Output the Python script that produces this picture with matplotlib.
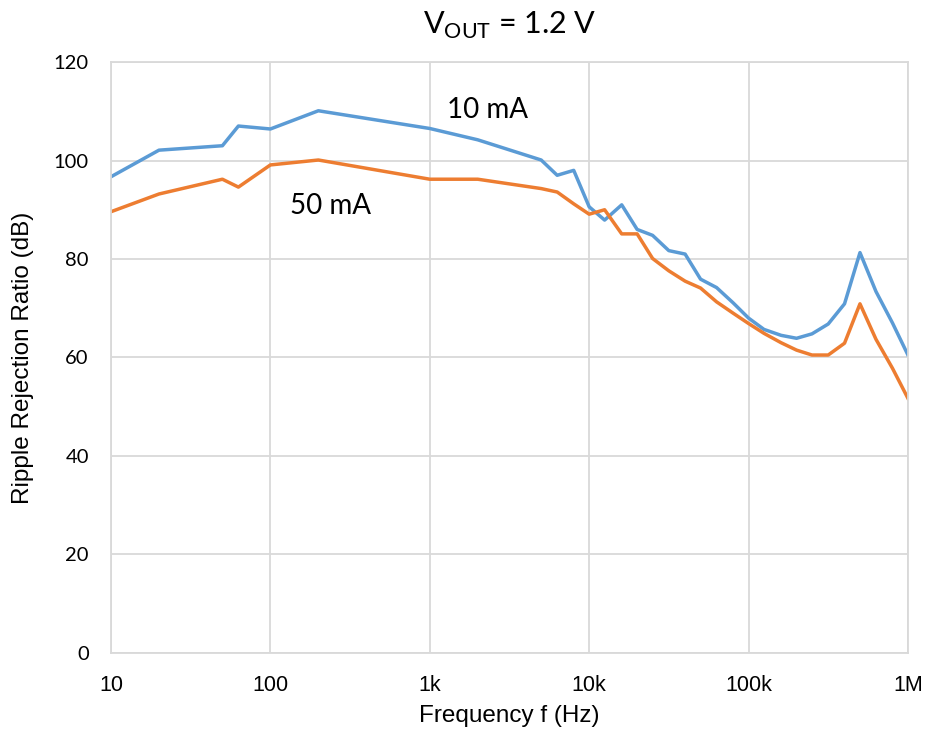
import matplotlib
matplotlib.use("Agg")
import matplotlib.pyplot as plt
from matplotlib.ticker import FixedLocator, FixedFormatter, NullLocator

# frequency points (Hz)
freq = [10, 20, 50, 63, 100, 200, 1e3, 2e3, 5e3, 6.3e3, 8e3, 10e3, 12.5e3, 16e3,
        20e3, 25e3, 31.6e3, 40e3, 50e3, 63e3, 80e3, 100e3, 125e3, 160e3, 200e3,
        250e3, 316e3, 400e3, 500e3, 630e3, 800e3, 1e6]

# ripple rejection (dB)
prr_10ma = [96.7, 102.1, 103.0, 107.0, 106.4, 110.1, 106.5, 104.2, 100.1, 97.0,
            98.0, 90.6, 87.9, 91.0, 86.0, 84.8, 81.7, 81.0, 75.9, 74.2, 71.1,
            68.0, 65.7, 64.5, 63.9, 64.8, 66.8, 70.9, 81.3, 73.4, 67.0, 60.5]
prr_50ma = [89.6, 93.2, 96.2, 94.6, 99.1, 100.1, 96.2, 96.2, 94.3, 93.6,
            91.2, 89.1, 90.0, 85.1, 85.1, 80.1, 77.6, 75.5, 74.1, 71.3, 69.0,
            66.9, 64.9, 63.0, 61.5, 60.5, 60.5, 62.9, 70.9, 63.7, 57.8, 51.7]

xticks = [10, 100, 1e3, 1e4, 1e5, 1e6]
xtick_labels = ["10", "100", "1k", "10k", "100k", "1M"]
yticks = [0, 20, 40, 60, 80, 100, 120]

plt.rcParams['font.family'] = ['Liberation Sans', 'DejaVu Sans']
plt.rcParams['mathtext.fontset'] = 'custom'
plt.rcParams['mathtext.rm'] = 'Lato'

fig = plt.figure(figsize=(9.28, 7.4), dpi=100)
ax = fig.add_axes([0.1196, 0.1176, 0.8588, 0.7986])

ax.plot(freq, prr_10ma, color='#5B9BD5', lw=2.5, solid_joinstyle='round')
ax.plot(freq, prr_50ma, color='#ED7D31', lw=2.5, solid_joinstyle='round')

ax.set_xscale('log')
ax.set_xlim(10, 1e6)
ax.set_ylim(0, 120)
ax.xaxis.set_major_locator(FixedLocator(xticks))
ax.xaxis.set_major_formatter(FixedFormatter(xtick_labels))
ax.xaxis.set_minor_locator(NullLocator())
ax.set_yticks(yticks)

ax.grid(True, color='#d9d9d9', lw=1.3)
ax.set_axisbelow(True)
for s in ax.spines.values():
    s.set_color('#d9d9d9')
    s.set_linewidth(1.3)
ax.tick_params(length=0, colors='black')
ax.tick_params(axis='x', pad=16, labelsize=15.5)
ax.tick_params(axis='y', pad=16, labelsize=14.5)
for lbl in ax.get_yticklabels():
    lbl.set_family('Lato')

ax.set_xlabel('Frequency f (Hz)', fontsize=17.5, labelpad=6)
ax.set_ylabel('Ripple Rejection Ratio (dB)', fontsize=17.5, labelpad=14)

ax.set_title(r'V$_{\mathrm{OUT}}$ = 1.2 V', fontsize=22, family='Lato', pad=20)

ax.text(2300, 110.3, '10 mA', fontsize=20, family='Lato', ha='center', va='center')
ax.text(240, 90.8, '50 mA', fontsize=20, family='Lato', ha='center', va='center')

fig.savefig('out.png', dpi=100)
